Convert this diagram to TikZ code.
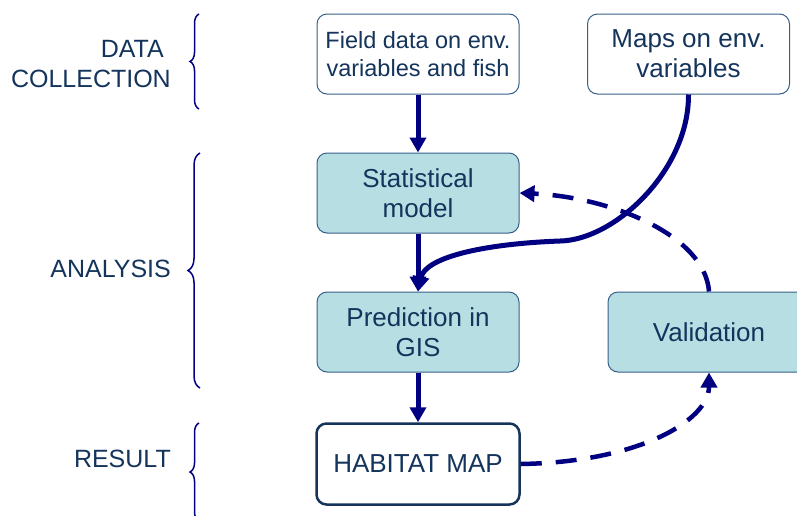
\documentclass[tikz,border=0pt]{standalone}
\usepackage{fontspec}
\setmainfont{Liberation Sans}
\usetikzlibrary{arrows.meta,decorations.pathreplacing}
\definecolor{txtcol}{RGB}{20,52,92}
\definecolor{boxfill}{RGB}{183,223,227}
\definecolor{boxline}{RGB}{55,95,135}
\definecolor{navyline}{RGB}{0,0,128}
\definecolor{habline}{RGB}{22,52,90}
\tikzset{
  box/.style={rectangle, rounded corners=10pt, minimum width=202pt, minimum height=80pt,
    draw=boxline, line width=1pt, align=center, text=txtcol, inner sep=0pt,
    font=\fontsize{26}{30}\selectfont},
  plainbox/.style={box, fill=white},
  smallbox/.style={plainbox, font=\fontsize{23.5}{28}\selectfont},
  tealbox/.style={box, fill=boxfill},
  habbox/.style={box, fill=white, draw=habline, line width=2.5pt, minimum width=203pt, minimum height=81pt},
  lbl/.style={anchor=east, align=right, text=txtcol, inner sep=0pt, font=\fontsize{25}{30}\selectfont},
  solidarrow/.style={draw=navyline, line width=5pt, -{Triangle[length=15pt,width=16pt]}},
  dasharrow/.style={draw=navyline, line width=4.5pt, dash pattern=on 21pt off 14pt, -{Triangle[length=15pt,width=16pt]}},
  bracestyle/.style={draw=navyline, line width=1.5pt, decorate}
}
\begin{document}
\begin{tikzpicture}[x=1pt,y=-1pt]
\useasboundingbox (0,0) rectangle (797,515);
% boxes
\node[smallbox] (field) at (418,54) {Field data on env.\\variables and fish};
\node[plainbox] (maps) at (688.5,54) {Maps on env.\\variables};
\node[tealbox] (stat) at (418,193) {Statistical\\model};
\node[tealbox] (pred) at (418,332) {Prediction in\\GIS};
\node[tealbox] (val) at (709,332) {Validation};
\node[habbox] (hab) at (418,464) {HABITAT MAP};
% labels
\node[lbl] (lcoll) at (171,64) {DATA\hspace*{0.28em}\\COLLECTION};
\node[lbl] (lana) at (171,269) {ANALYSIS};
\node[lbl] (lres) at (171,459) {RESULT};
% braces
\coordinate (b1a) at (199,109); \coordinate (b1b) at (199,14);
\coordinate (b2a) at (200,388); \coordinate (b2b) at (200,153);
\coordinate (b3a) at (199,521); \coordinate (b3b) at (199,423);
\draw[bracestyle, decoration={brace, amplitude=9pt}] (b1a) -- (b1b);
\draw[bracestyle, decoration={brace, amplitude=12pt}] (b2a) -- (b2b);
\draw[bracestyle, decoration={brace, amplitude=9pt}] (b3a) -- (b3b);
% connectors
\draw[solidarrow] (field) -- (stat);
\draw[solidarrow] (stat) -- (pred);
\draw[solidarrow] (pred) -- (hab);
\draw[dasharrow] (val.north) .. controls (705,235) and (610,197) .. (stat.east);
\coordinate (mid) at (560,241);
\draw[solidarrow] (maps.south) .. controls (689,170) and (615,240) .. (mid)
  .. controls (480,244) and (425,258) .. (pred.north);
\draw[dasharrow] (hab.east) .. controls (640,462) and (709,420) .. (val.south);
\end{tikzpicture}
\end{document}
